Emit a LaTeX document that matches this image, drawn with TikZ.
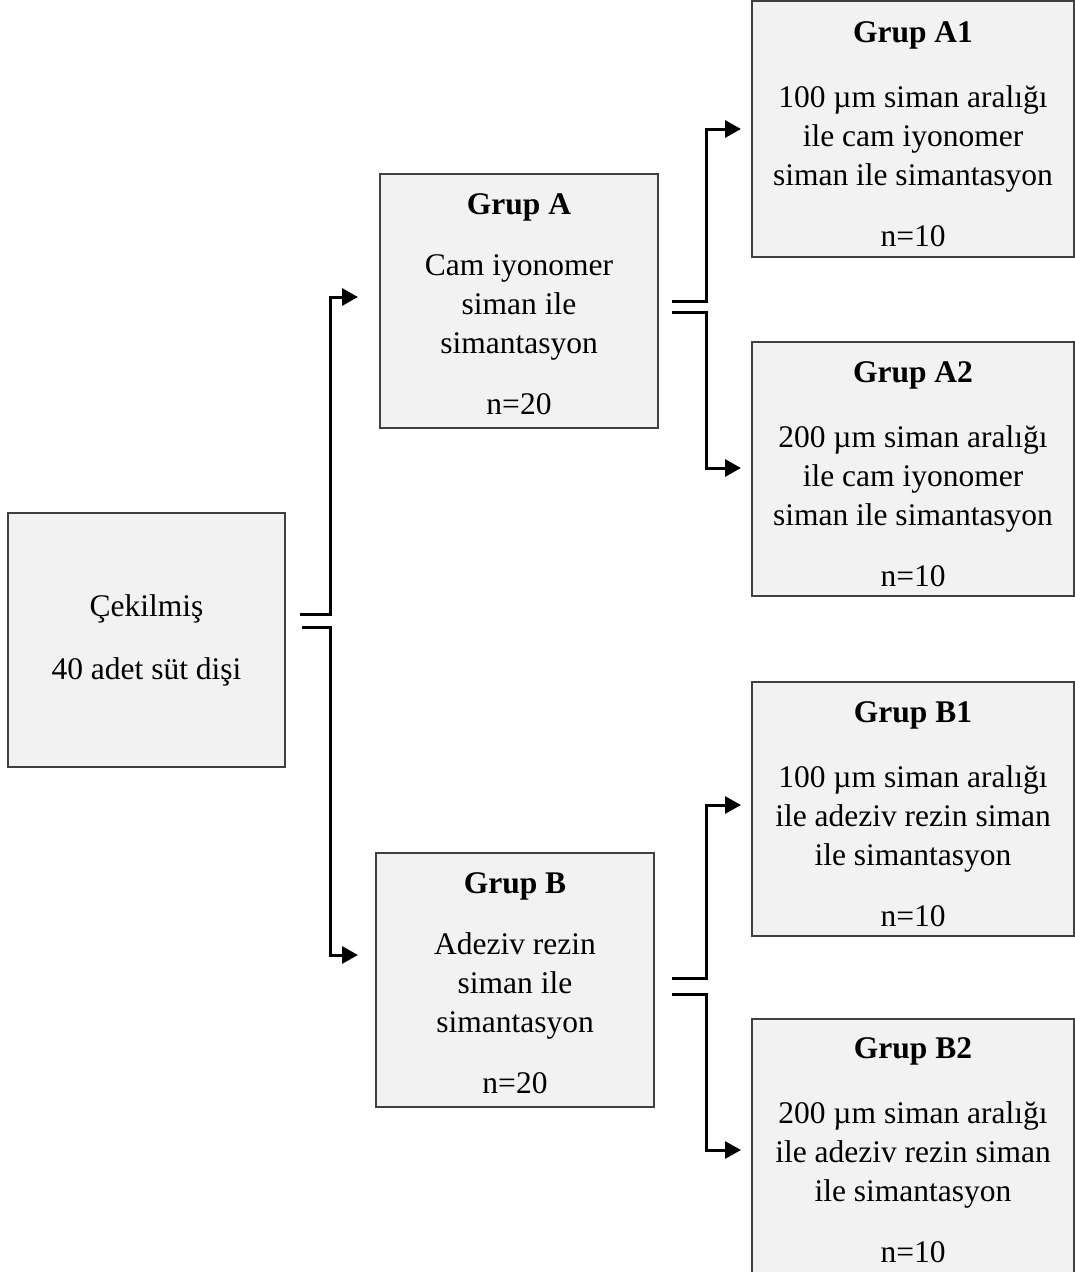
\documentclass[tikz,border=0pt]{standalone}
\usepackage{fontspec}
\setmainfont{Liberation Serif}
\usetikzlibrary{arrows.meta,positioning,calc}
\definecolor{boxfill}{HTML}{F2F2F2}
\definecolor{boxline}{HTML}{404040}
\tikzset{
  boxnode/.style={draw=boxline,fill=boxfill,line width=1.6pt,rectangle,inner sep=0pt},
  boxtext/.style={align=center,inner sep=0pt,font=\fontsize{31.5}{39}\selectfont},
  conn/.style={draw=black,line width=3pt,-{Triangle[length=16pt,width=17pt]}},
}
\newcommand{\boxat}[7]{% name, x1,y1,x2,y2, yshift, text
  \node[boxnode,minimum width={#4-#2},minimum height={#5-#3}] (#1) at ({(#2+#4)/2},{(#3+#5)/2}) {};
  \node[boxtext,yshift=#6] (#1t) at (#1.center) {#7};}
\begin{document}
\begin{tikzpicture}[x=1pt,y=-1pt]
\useasboundingbox (0,0) rectangle (1075,1272);
\fill[white] (0,0) rectangle (1075,1272);
\boxat{L}{8}{513}{285}{767}{0pt}{Çekilmiş\\[24pt]40 adet süt dişi}
\boxat{A}{380}{174}{658}{428}{-3pt}{\textbf{Grup A}\\[22pt]Cam iyonomer\\siman ile\\simantasyon\\[22pt]n=20}
\boxat{B}{376}{853}{654}{1107}{-3pt}{\textbf{Grup B}\\[22pt]Adeziv rezin\\siman ile\\simantasyon\\[22pt]n=20}
\boxat{A1}{752}{1}{1074}{257}{-5pt}{\textbf{Grup A1}\\[26pt]100 µm siman aralığı\\ile cam iyonomer\\siman ile simantasyon\\[22pt]n=10}
\boxat{A2}{752}{342}{1074}{596}{-5pt}{\textbf{Grup A2}\\[26pt]200 µm siman aralığı\\ile cam iyonomer\\siman ile simantasyon\\[22pt]n=10}
\boxat{B1}{752}{682}{1074}{936}{-5pt}{\textbf{Grup B1}\\[26pt]100 µm siman aralığı\\ile adeziv rezin siman\\ile simantasyon\\[22pt]n=10}
\boxat{B2}{752}{1019}{1074}{1273}{-4pt}{\textbf{Grup B2}\\[26pt]200 µm siman aralığı\\ile adeziv rezin siman\\ile simantasyon\\[22pt]n=10}
% connector coordinates
\coordinate (l1) at (300,614);
\coordinate (l2) at (302,627);
\coordinate (ta) at (358,297);
\coordinate (tb) at (358,955);
\coordinate (a1) at (672,301);
\coordinate (a2) at (672,312);
\coordinate (ta1) at (741,129);
\coordinate (ta2) at (741,468);
\coordinate (b1) at (672,978);
\coordinate (b2) at (672,994);
\coordinate (tb1) at (741,805);
\coordinate (tb2) at (741,1150);
\draw[conn] (l1) -- (330,614) |- (ta);
\draw[conn] (l2) -- (330,627) |- (tb);
\draw[conn] (a1) -- (706,301) |- (ta1);
\draw[conn] (a2) -- (706,312) |- (ta2);
\draw[conn] (b1) -- (706,978) |- (tb1);
\draw[conn] (b2) -- (706,994) |- (tb2);
\end{tikzpicture}
\end{document}
